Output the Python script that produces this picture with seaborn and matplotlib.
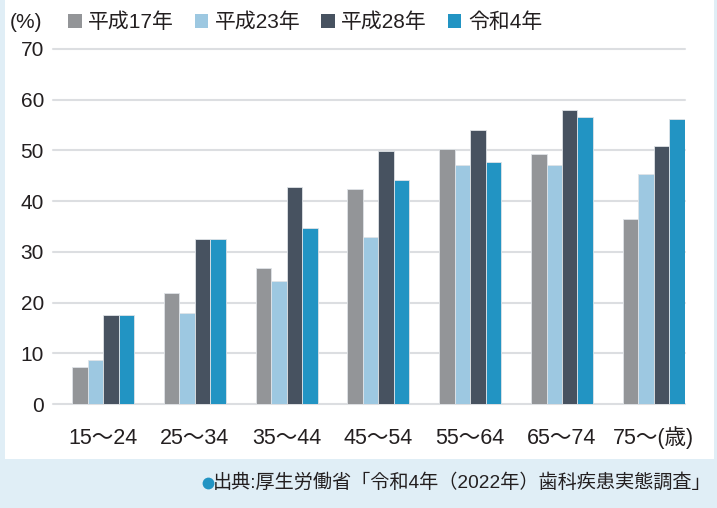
import matplotlib
matplotlib.use("Agg")
import matplotlib.pyplot as plt
import seaborn as sns
import pandas as pd
from matplotlib.patches import Rectangle, Patch
from matplotlib.lines import Line2D

categories = ["15～24", "25～34", "35～44", "45～54", "55～64", "65～74", "75～(歳)"]
series_names = ["平成17年", "平成23年", "平成28年", "令和4年"]
h17 = [7.3, 21.8, 26.8, 42.4, 50.2, 49.2, 36.5]
h23 = [8.6, 18.0, 24.2, 33.0, 47.2, 47.2, 45.3]
h28 = [17.6, 32.6, 42.7, 49.9, 54.1, 58.0, 50.8]
r4 = [17.6, 32.6, 34.8, 44.1, 47.8, 56.5, 56.1]
yticks = [0, 10, 20, 30, 40, 50, 60, 70]
colors = ["#939598", "#9dc8e1", "#475260", "#2294c3"]

rows = []
for name, vals in zip(series_names, [h17, h23, h28, r4]):
    for c, v in zip(categories, vals):
        rows.append({"age": c, "year": name, "value": v})
df = pd.DataFrame(rows)

sns.set_theme(style="white")
plt.rcParams["font.family"] = ["Liberation Sans", "Noto Sans CJK JP", "DejaVu Sans"]

TXT = "#231f20"
fig = plt.figure(figsize=(7.17, 5.08), dpi=100)
fig.patch.set_facecolor("white")
# background bands
fig.patches.append(Rectangle((0, 0), 1, (508 - 459) / 508, transform=fig.transFigure,
                             facecolor="#e0eef6", edgecolor="none", zorder=0))
fig.patches.append(Rectangle((0, 0), 5 / 717, 1, transform=fig.transFigure,
                             facecolor="#e0eef6", edgecolor="none", zorder=0))
fig.patches.append(Rectangle((714 / 717, 0), 3 / 717, 1, transform=fig.transFigure,
                             facecolor="#e0eef6", edgecolor="none", zorder=0))

ax = fig.add_axes([53 / 717, (508 - 404) / 508, (685 - 53) / 717, (404 - 49) / 508])
ax.set_facecolor("none")
sns.barplot(data=df, x="age", y="value", hue="year", palette=colors, width=0.675,
            saturation=1, edgecolor="#dfe3e7", linewidth=0.6, legend=False, ax=ax, zorder=3)

ax.set_ylim(0, 70)
ax.set_xlim(-0.545, 6.34)
ax.set_yticks(yticks)
ax.set_yticklabels([str(t) for t in yticks])
ax.yaxis.grid(True, color="#dcdee1", linewidth=1.5, zorder=0)
ax.set_axisbelow(True)
for gl in ax.get_ygridlines():
    gl.set_clip_on(False)
for s in ax.spines.values():
    s.set_visible(False)
ax.tick_params(axis="y", length=0, labelsize=15, colors=TXT, pad=6.5)
ax.tick_params(axis="x", length=0, labelsize=15.5, colors=TXT, pad=28.8)
for lbl in ax.get_xticklabels():
    lbl.set_verticalalignment("baseline")
ax.set_xlabel("")
ax.set_ylabel("")

# legend
handles = [Patch(facecolor=c, edgecolor="none") for c in colors]
fig.legend(handles, series_names, loc="center left", bbox_to_anchor=(68 / 717, 1 - 22.5 / 508),
           ncol=4, frameon=False, fontsize=15, handlelength=0.65, handleheight=0.65,
           handletextpad=0.31, columnspacing=1.0, borderpad=0, borderaxespad=0,
           labelcolor=TXT)
fig.text(10 / 717, 1 - 22.5 / 508, "(%)", fontsize=15, color=TXT, va="center", ha="left")

# source
fig.text(711 / 717, 1 - 483 / 508, "出典:厚生労働省「令和4年（2022年）歯科疾患実態調査」",
         fontsize=13.8, color=TXT, ha="right", va="center")
fig.add_artist(Line2D([208 / 717], [1 - 483 / 508], transform=fig.transFigure, marker="o",
                      markersize=8.5, markerfacecolor="#2294c3", markeredgecolor="none",
                      linestyle="none"))

fig.savefig("out.png", dpi=100)
